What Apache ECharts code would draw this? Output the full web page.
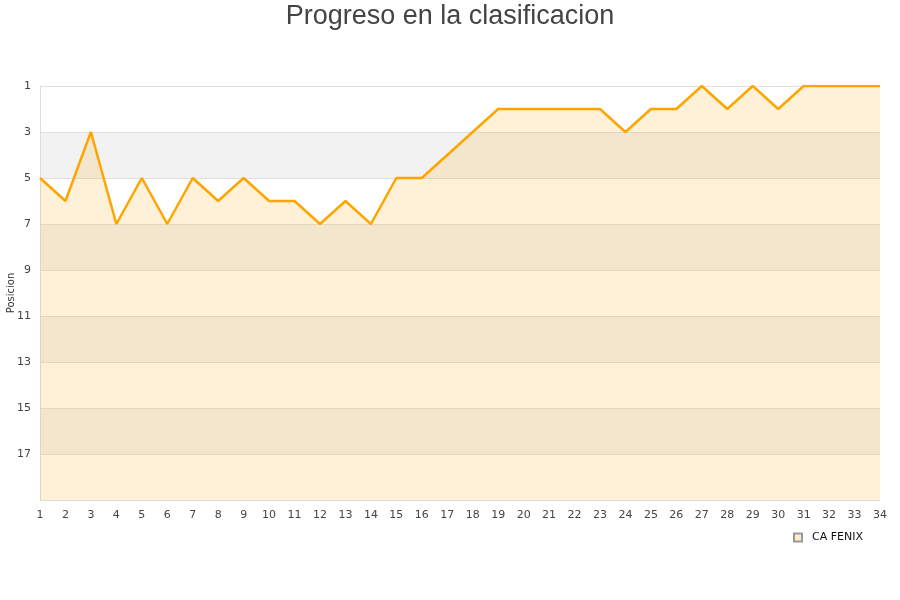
<!DOCTYPE html>
<html><head><meta charset="utf-8">
<script src="https://cdn.jsdelivr.net/npm/echarts@6/dist/echarts.min.js"></script>
<style>html,body{margin:0;padding:0;background:#fff}#c{width:900px;height:600px}</style>
</head><body><div id="c"></div>
<script>
var jornadas = ['1','2','3','4','5','6','7','8','9','10','11','12','13','14','15','16','17','18','19','20','21','22','23','24','25','26','27','28','29','30','31','32','33','34'];
var posiciones = [5,6,3,7,5,7,5,6,5,6,6,7,6,7,5,5,4,3,2,2,2,2,2,3,2,2,1,2,1,2,1,1,1,1];
var equipo = 'CA FENIX';
var titulo = 'Progreso en la clasificacion';
var ejeY = 'Posicion';

var chart = echarts.init(document.getElementById('c'));
chart.setOption({
  animation: false,
  title: {text: titulo, left: 'center', top: -2, textStyle: {fontFamily: 'Liberation Sans, Arial, sans-serif', fontSize: 27, fontWeight: 'normal', color: '#444'}},
  legend: {data: [{name: equipo, icon: 'rect'}], right: 32, top: 527, itemWidth: 8, itemHeight: 8, itemGap: 8, textStyle: {fontSize: 11, color: '#111', fontFamily: 'DejaVu Sans', padding: [0, 0, 0, 5]}},
  grid: {left: 40, right: 20, top: 86, bottom: 100, containLabel: false, outerBoundsMode: 'none'},
  xAxis: {type: 'category', data: jornadas, boundaryGap: false,
    axisLine: {show: false}, axisTick: {show: false},
    axisLabel: {fontSize: 11, color: '#444', margin: 10, fontFamily: 'DejaVu Sans'}},
  yAxis: {type: 'value', inverse: true, min: 1, max: 19, interval: 2,
    name: ejeY, nameLocation: 'middle', nameGap: 24, nameMoveOverlap: false, nameRotate: 90, nameTextStyle: {fontSize: 10, color: '#333', fontFamily: 'DejaVu Sans'},
    axisLine: {show: true, lineStyle: {color: '#ddd'}}, axisTick: {show: false},
    axisLabel: {fontSize: 11, color: '#444', margin: 9, fontFamily: 'DejaVu Sans', formatter: function(v){return v===19?'':v;}},
    splitLine: {show: true, lineStyle: {color: '#e0e0e0'}},
    splitArea: {show: true, areaStyle: {color: ['#ffffff', '#f2f2f2']}}},
  series: [{name: equipo, type: 'line', data: posiciones, showSymbol: false, symbol: 'none',
    lineStyle: {color: '#ffa500', width: 2.5}, itemStyle: {color: '#ffeccc', borderColor: '#999', borderWidth: 1},
    areaStyle: {color: 'rgba(255,165,0,0.22)', origin: 'end'}}]
});
</script></body></html>
